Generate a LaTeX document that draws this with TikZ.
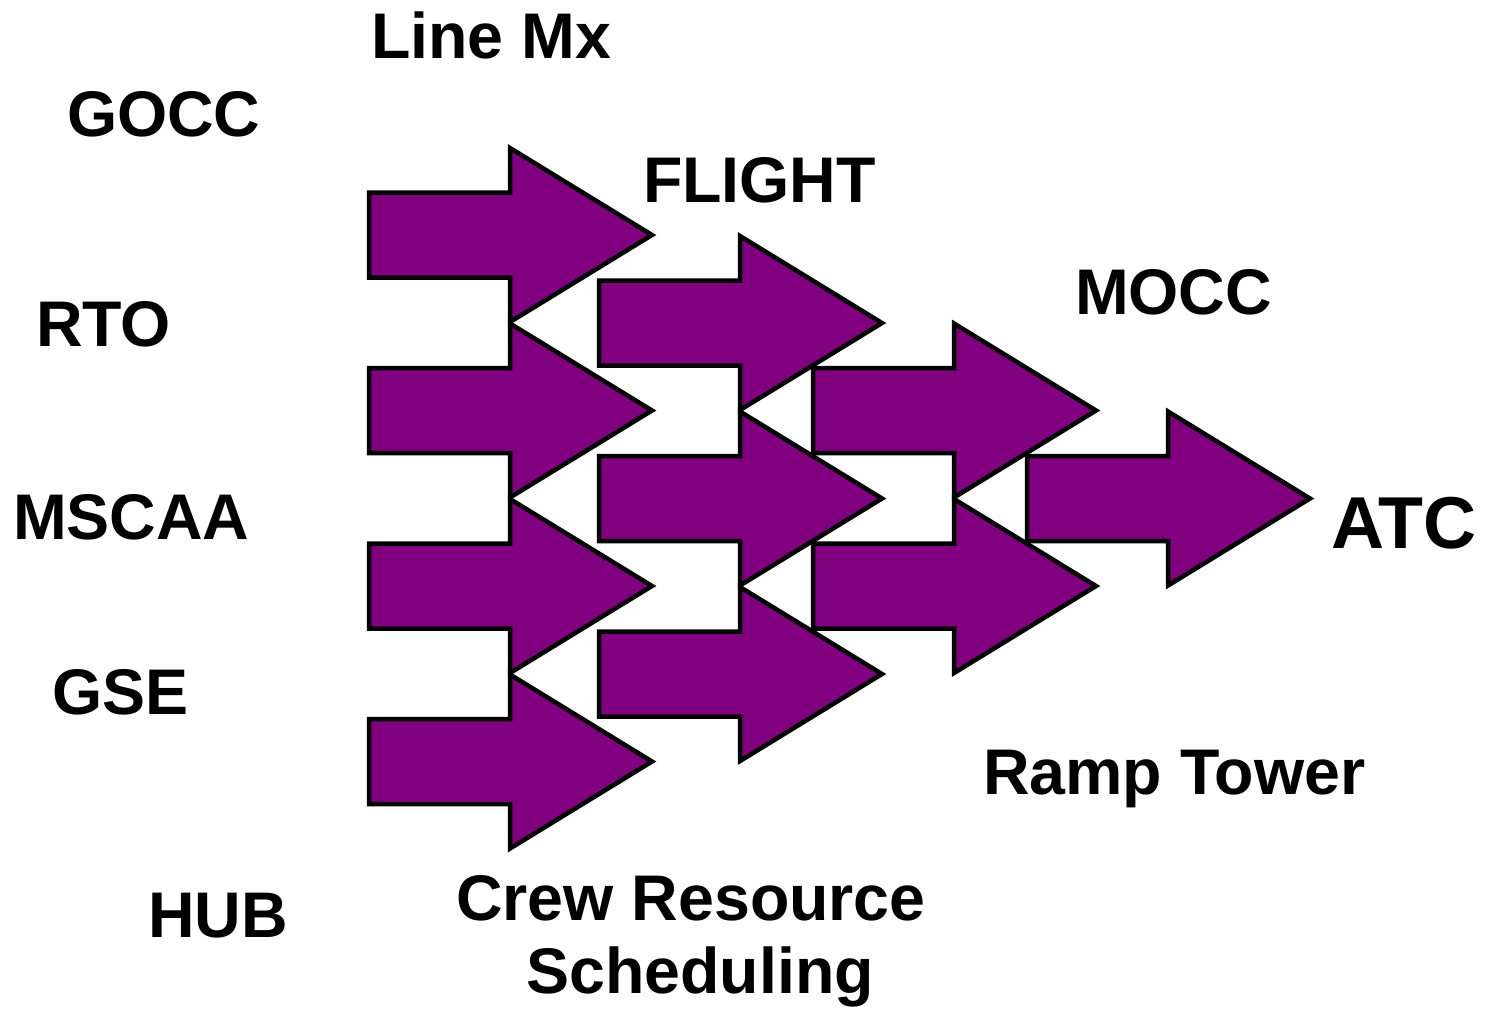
\documentclass[tikz,border=0pt]{standalone}
\usepackage{fontspec}
\setmainfont{Liberation Sans}
\definecolor{arrowpurple}{HTML}{800080}
\tikzset{
  arrowfill/.style={fill=arrowpurple, draw=black, line width=4.5pt, line join=miter},
  fatarrow/.pic={\path[arrowfill] (0,-42.5) -- (141,-42.5) -- (141,-87) -- (283,0) -- (141,87) -- (141,42.5) -- (0,42.5) -- cycle;},
  lbl/.style={inner sep=0pt, outer sep=0pt, font=\fontsize{64.5}{72}\selectfont\bfseries, anchor=base west},
  biglbl/.style={lbl, font=\fontsize{73.5}{80}\selectfont\bfseries}
}
\begin{document}
\begin{tikzpicture}[x=1pt, y=-1pt]
\useasboundingbox (0,0) rectangle (1491,1009);
% column 1
\pic at (369,235) {fatarrow};
\pic at (369,410.5) {fatarrow};
\pic at (369,586) {fatarrow};
\pic at (369,761.5) {fatarrow};
% column 2
\pic at (599,323) {fatarrow};
\pic at (599,498.5) {fatarrow};
\pic at (599,674) {fatarrow};
% column 3
\pic at (813,410.5) {fatarrow};
\pic at (813,586) {fatarrow};
% column 4
\pic at (1027,498.5) {fatarrow};
% labels
\node[lbl] (linemx) at (371,58) {Line Mx};
\node[lbl] (gocc) at (67,136) {GOCC};
\node[lbl] (flight) at (643,202) {FLIGHT};
\node[lbl] (rto) at (36,346) {RTO};
\node[lbl] (mocc) at (1075,314) {MOCC};
\node[lbl] (mscaa) at (13,539) {MSCAA};
\node[biglbl] (atc) at (1331,548) {ATC};
\node[lbl] (gse) at (52,714) {GSE};
\node[lbl] (ramp) at (983,794) {Ramp Tower};
\node[lbl] (hub) at (148,937) {HUB};
\node[lbl, anchor=base] (crew1) at (691,920) {Crew Resource};
\node[lbl, anchor=base] (crew2) at (700,993) {Scheduling};
\end{tikzpicture}
\end{document}
